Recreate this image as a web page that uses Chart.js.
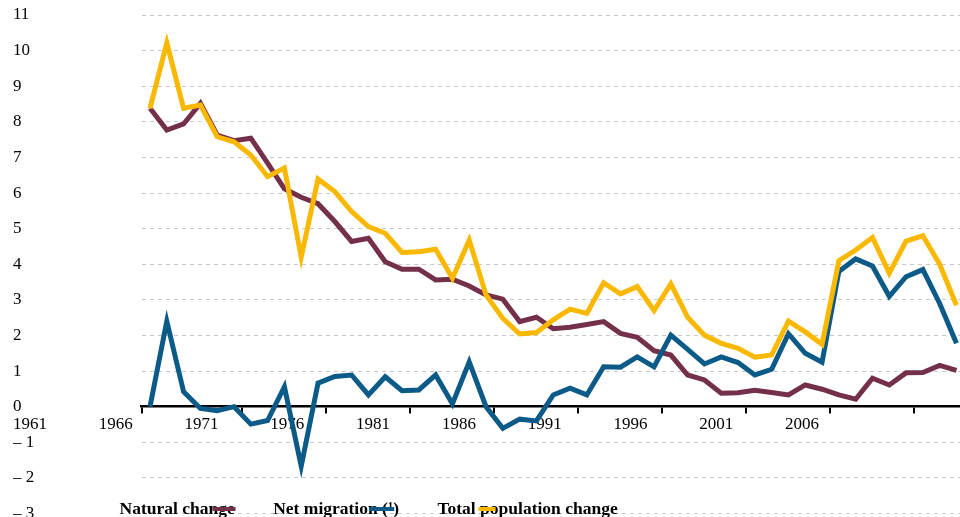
<!DOCTYPE html>
<html>
<head>
<meta charset="utf-8">
<script src="https://cdn.jsdelivr.net/npm/chart.js@4.4.1/dist/chart.umd.min.js"></script>
<style>
  html, body { margin: 0; padding: 0; background: #fff; }
</style>
</head>
<body>
<canvas id="chart" width="960" height="517"></canvas>
<script>
/* Population change by component, crude rates per 1000 persons */

const years = [
  1961, 1962, 1963, 1964, 1965, 1966, 1967, 1968, 1969, 1970,
  1971, 1972, 1973, 1974, 1975, 1976, 1977, 1978, 1979, 1980,
  1981, 1982, 1983, 1984, 1985, 1986, 1987, 1988, 1989, 1990,
  1991, 1992, 1993, 1994, 1995, 1996, 1997, 1998, 1999, 2000,
  2001, 2002, 2003, 2004, 2005, 2006, 2007, 2008, 2009
];

/* tick marks on the zero axis sit between years */
const tickBounds = [1960.5, 1966.5, 1971.5, 1976.5, 1981.5, 1986.5, 1991.5, 1996.5, 2001.5, 2006.5];

const yearTicks = [1961, 1966, 1971, 1976, 1981, 1986, 1991, 1996, 2001, 2006];

const naturalChange = [
  8.38, 7.77, 7.94, 8.52, 7.63, 7.47, 7.54, 6.84, 6.12, 5.88,
  5.70, 5.20, 4.64, 4.73, 4.07, 3.86, 3.86, 3.56, 3.58, 3.39,
  3.14, 3.02, 2.39, 2.51, 2.19, 2.23, 2.31, 2.39, 2.06, 1.95,
  1.57, 1.45, 0.89, 0.75, 0.38, 0.39, 0.46, 0.40, 0.33, 0.61,
  0.49, 0.33, 0.21, 0.80, 0.61, 0.95, 0.96, 1.16, 1.02
];

const netMigration = [
  0.00, 2.40, 0.42, -0.05, -0.11, 0.00, -0.49, -0.39, 0.56, -1.67,
  0.66, 0.85, 0.89, 0.33, 0.84, 0.45, 0.47, 0.89, 0.08, 1.26,
  0.00, -0.61, -0.35, -0.40, 0.33, 0.52, 0.33, 1.12, 1.11, 1.40,
  1.12, 2.01, 1.61, 1.20, 1.40, 1.24, 0.89, 1.05, 2.05, 1.50,
  1.25, 3.80, 4.15, 3.95, 3.10, 3.65, 3.85, 2.90, 1.78
];

const totalChange = [
  8.38, 10.22, 8.38, 8.47, 7.58, 7.44, 7.07, 6.46, 6.70, 4.20,
  6.39, 6.04, 5.48, 5.06, 4.87, 4.33, 4.35, 4.42, 3.61, 4.68,
  3.14, 2.48, 2.04, 2.08, 2.44, 2.74, 2.62, 3.48, 3.17, 3.37,
  2.70, 3.45, 2.51, 2.01, 1.78, 1.64, 1.39, 1.45, 2.40, 2.10,
  1.75, 4.10, 4.40, 4.75, 3.75, 4.65, 4.80, 4.00, 2.85
];

const seriesLabels = ["Natural change", "Net migration (\u00B9)", "Total population change"];

const RED    = "#74304A";
const BLUE   = "#0B5A87";
const YELLOW = "#FBB800";
const GRID   = "#C8C8C8";
const FONT   = '"Liberation Serif", "Times New Roman", serif';

/* year labels sit on their own (hidden) linear scale */
const yearLabelsPlugin = {
  id: "yearLabels",
  beforeDatasetsDraw(chart) {
    const { ctx } = chart;
    const xl = chart.scales.xl;
    const y0 = chart.scales.y.getPixelForValue(0);
    ctx.save();
    ctx.font = "17px " + FONT;
    ctx.fillStyle = "#000";
    ctx.textAlign = "center";
    ctx.textBaseline = "alphabetic";
    yearTicks.forEach(yr => {
      ctx.fillText(String(yr), xl.getPixelForValue(yr), y0 + 22);
    });
    ctx.restore();
  }
};

/* legend along the bottom, marker drawn over the text */
const legendPlugin = {
  id: "bottomLegend",
  afterDraw(chart) {
    const { ctx } = chart;
    const markerAt = [93, 96, 41];
    const markerLen = [23, 25, 17];
    let x = 119.5;
    ctx.save();
    ctx.font = "bold 17.5px " + FONT;
    ctx.textBaseline = "alphabetic";
    ctx.textAlign = "left";
    chart.data.datasets.forEach((ds, i) => {
      const w = ctx.measureText(ds.label).width;
      ctx.fillStyle = "#000";
      ctx.fillText(ds.label, x, 514);
      ctx.strokeStyle = ds.borderColor;
      ctx.lineWidth = 4;
      ctx.beginPath();
      ctx.moveTo(x + markerAt[i], 509);
      ctx.lineTo(x + markerAt[i] + markerLen[i], 509);
      ctx.stroke();
      x += w + 38.5;
    });
    ctx.restore();
  }
};

new Chart(document.getElementById("chart"), {
  type: "line",
  data: {
    labels: years,
    datasets: [
      { label: seriesLabels[0], data: naturalChange, borderColor: RED,    order: 3 },
      { label: seriesLabels[1], data: netMigration,  borderColor: BLUE,   order: 2 },
      { label: seriesLabels[2], data: totalChange,   borderColor: YELLOW, order: 1 }
    ]
  },
  options: {
    responsive: false,
    animation: false,
    devicePixelRatio: 1,
    layout: { padding: { left: 13, right: 0, top: 15, bottom: 3.5 } },
    elements: {
      line: { borderWidth: 5, tension: 0, fill: false },
      point: { radius: 0, hoverRadius: 0 }
    },
    plugins: {
      legend: { display: false },
      tooltip: { enabled: false }
    },
    scales: {
      x: {
        type: "linear",
        position: { y: 0 },
        min: 1960.5,
        max: 2009.21,
        border: { display: true, color: "#000", width: 2.5 },
        grid: {
          display: true,
          drawOnChartArea: false,
          drawTicks: true,
          tickLength: 6,
          lineWidth: 2,
          color: "#000"
        },
        ticks: { display: false },
        afterBuildTicks(scale) {
          scale.ticks = tickBounds.map(v => ({ value: v }));
        }
      },
      xl: {
        type: "linear",
        display: false,
        min: 1967.505,
        max: 2015.208
      },
      y: {
        min: -3,
        max: 11,
        border: { display: false, dash: [4, 4] },
        grid: { color: GRID, lineWidth: 1, drawTicks: false },
        ticks: {
          stepSize: 1,
          crossAlign: "far",
          color: "#000",
          font: { family: FONT, size: 17 },
          callback: v => v < 0 ? "\u2013 " + Math.abs(v) : String(v)
        },
        afterFit(scale) {
          scale.width = 128.6;
          scale.paddingTop = 0;
          scale.paddingBottom = 0;
        }
      }
    }
  },
  plugins: [yearLabelsPlugin, legendPlugin]
});
</script>
</body>
</html>
